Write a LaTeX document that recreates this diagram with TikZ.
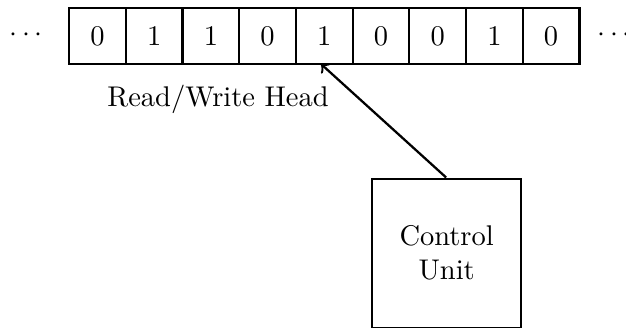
\documentclass[tikz,border=0pt]{standalone}
\usetikzlibrary{calc}
\begin{document}
\begin{tikzpicture}[x=0.351pt,y=-0.351pt,
  cell/.style={draw,thick,minimum width=56.7*0.351pt,minimum height=55.5*0.351pt,inner sep=0pt,anchor=north west},
  ctrl/.style={draw,thick,minimum width=149*0.351pt,minimum height=149*0.351pt,inner sep=0pt,align=center,anchor=north west},
  link/.style={thick,->}]
\useasboundingbox (0,0) rectangle (626,327);
% tape cells
\foreach \b [count=\i] in {0,1,1,0,1,0,0,1,0}
  \node[cell] (c\i) at ({68+(\i-1)*56.7},7) {\b};
\node (ldots) at (26,35) {$\cdots$};
\node (rdots) at (614,35) {$\cdots$};
% control unit and head
\node[ctrl] (cu) at (371,177.5) {Control\\Unit};
\coordinate (tip) at (321,64);
\draw[link] (cu.north) ++(-0.5,0) coordinate (cutop) -- (tip);
\node (rw) at (218,99) {Read/Write Head};
\end{tikzpicture}
\end{document}
